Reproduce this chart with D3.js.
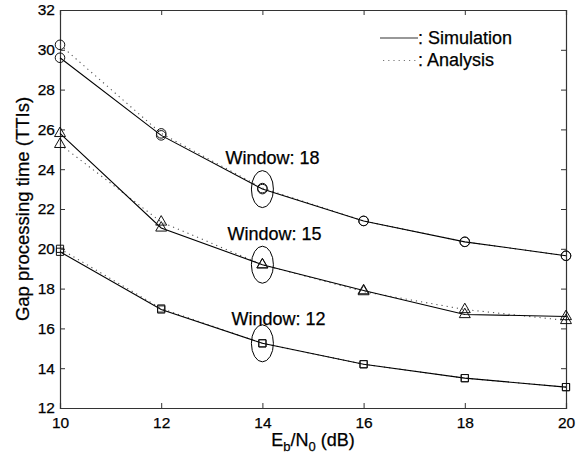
<!DOCTYPE html>
<html>
<head>
<meta charset="utf-8">
<script src="https://cdn.jsdelivr.net/npm/d3@7"></script>
<style>
  html, body { margin: 0; padding: 0; background: #fff; }
  svg text { font-family: "Liberation Sans", Arial, Helvetica, sans-serif; fill: #000; stroke: #000; stroke-width: 0.25px; }
</style>
</head>
<body>
<svg id="chart" width="577" height="456"></svg>
<script>
// Eb/N0 in dB
const ebn0 = [10, 12, 14, 16, 18, 20];

// Gap processing time (TTIs), simulation and analysis per window size
const sim18 = [29.6, 25.7, 23.0, 21.4, 20.35, 19.65];
const ana18 = [30.25, 25.8, 23.05, 21.4, 20.35, 19.65];
const sim15 = [25.8, 21.05, 19.2, 17.9, 16.7, 16.6];
const ana15 = [25.25, 21.35, 19.2, 17.85, 16.95, 16.4];
const sim12 = [19.85, 16.95, 15.25, 14.2, 13.5, 13.05];
const ana12 = [20.0, 17.0, 15.25, 14.2, 13.5, 13.05];

const xTicks = [10, 12, 14, 16, 18, 20];
const yTicks = [12, 14, 16, 18, 20, 22, 24, 26, 28, 30, 32];

const windowLabels = ["Window: 18", "Window: 15", "Window: 12"];
const legendLabels = [": Simulation", ": Analysis"];

const svg = d3.select("#chart");
const m = { left: 60, top: 10, right: 566, bottom: 408 };

const x = d3.scaleLinear().domain([10, 20]).range([m.left, m.right]);
const y = d3.scaleLinear().domain([12, 32]).range([m.bottom, m.top]);

const axisColor = "#333";
const tickLen = 5;

// axes with inward ticks on all four sides
const gx = svg.append("g").attr("transform", `translate(0,${m.bottom})`)
  .call(d3.axisBottom(x).tickValues(xTicks).tickSize(-tickLen).tickPadding(9).tickFormat(d3.format("d")));
const gxt = svg.append("g").attr("transform", `translate(0,${m.top})`)
  .call(d3.axisTop(x).tickValues(xTicks).tickSize(-tickLen).tickFormat(""));
const gy = svg.append("g").attr("transform", `translate(${m.left},0)`)
  .call(d3.axisLeft(y).tickValues(yTicks).tickSize(-tickLen).tickPadding(5).tickFormat(d3.format("d")));
const gyr = svg.append("g").attr("transform", `translate(${m.right},0)`)
  .call(d3.axisRight(y).tickValues(yTicks).tickSize(-tickLen).tickFormat(""));

[gx, gxt, gy, gyr].forEach(g => {
  g.select(".domain").attr("stroke", axisColor).attr("stroke-width", 1.2);
  g.selectAll(".tick line").attr("stroke", axisColor).attr("stroke-width", 1);
  g.selectAll(".tick text").attr("font-size", 15.5).attr("fill", "#000")
    .attr("font-family", "'Liberation Sans', Arial, sans-serif");
});

const line = d3.line().x((d, i) => x(ebn0[i])).y(d => y(d));

const series = [
  { sim: sim18, ana: ana18, marker: "circle" },
  { sim: sim15, ana: ana15, marker: "triangle" },
  { sim: sim12, ana: ana12, marker: "square" }
];

const symbolFor = {
  circle: d3.symbol().type(d3.symbolCircle).size(72),
  triangle: d3.symbol().type(d3.symbolTriangle).size(52),
  square: d3.symbol().type(d3.symbolSquare).size(52)
};

series.forEach(s => {
  svg.append("path").datum(s.ana).attr("d", line)
    .attr("fill", "none").attr("stroke", "#555").attr("stroke-width", 1.1)
    .attr("stroke-dasharray", "1.2,4");
  svg.append("path").datum(s.sim).attr("d", line)
    .attr("fill", "none").attr("stroke", "#000").attr("stroke-width", 1.1);
  [s.sim, s.ana].forEach(vals => {
    svg.append("g").selectAll("path").data(vals).join("path")
      .attr("d", symbolFor[s.marker])
      .attr("transform", (d, i) => `translate(${x(ebn0[i])},${y(d)})`)
      .attr("fill", "none").attr("stroke", "#111").attr("stroke-width", 1);
  });
});

// window annotations: ellipse round the 14 dB point and a label above it
const notes = [
  { label: windowLabels[0], val: sim18[2], dx: -37, dy: -25 },
  { label: windowLabels[1], val: sim15[2], dx: -35, dy: -25 },
  { label: windowLabels[2], val: sim12[2], dx: -31, dy: -18 }
];
notes.forEach(n => {
  svg.append("ellipse")
    .attr("cx", x(14)).attr("cy", y(n.val))
    .attr("rx", 11).attr("ry", 18.5)
    .attr("fill", "none").attr("stroke", "#000").attr("stroke-width", 1);
  svg.append("text")
    .attr("x", x(14) + n.dx).attr("y", y(n.val) + n.dy)
    .attr("font-size", 18).text(n.label);
});

// legend
const legend = svg.append("g");
legend.append("line").attr("x1", 380).attr("x2", 418).attr("y1", 38).attr("y2", 38)
  .attr("stroke", "#333").attr("stroke-width", 1.1);
legend.append("line").attr("x1", 383).attr("x2", 418).attr("y1", 60.5).attr("y2", 60.5)
  .attr("stroke", "#777").attr("stroke-width", 1.1).attr("stroke-dasharray", "1.2,4");
legend.append("text").attr("x", 418).attr("y", 44).attr("font-size", 18).text(legendLabels[0]);
legend.append("text").attr("x", 418).attr("y", 66).attr("font-size", 18).text(legendLabels[1]);

// axis titles
const xt = svg.append("text").attr("x", (m.left + m.right) / 2).attr("y", 446)
  .attr("text-anchor", "middle").attr("font-size", 18);
xt.append("tspan").text("E");
xt.append("tspan").attr("font-size", 13).attr("dy", 5).text("b");
xt.append("tspan").attr("dy", -5).text("/N");
xt.append("tspan").attr("font-size", 13).attr("dy", 5).text("0");
xt.append("tspan").attr("dy", -5).text(" (dB)");

svg.append("text")
  .attr("transform", `translate(28.5,${(m.top + m.bottom) / 2}) rotate(-90)`)
  .attr("text-anchor", "middle").attr("font-size", 18.5)
  .text("Gap processing time (TTIs)");
</script>
</body>
</html>
